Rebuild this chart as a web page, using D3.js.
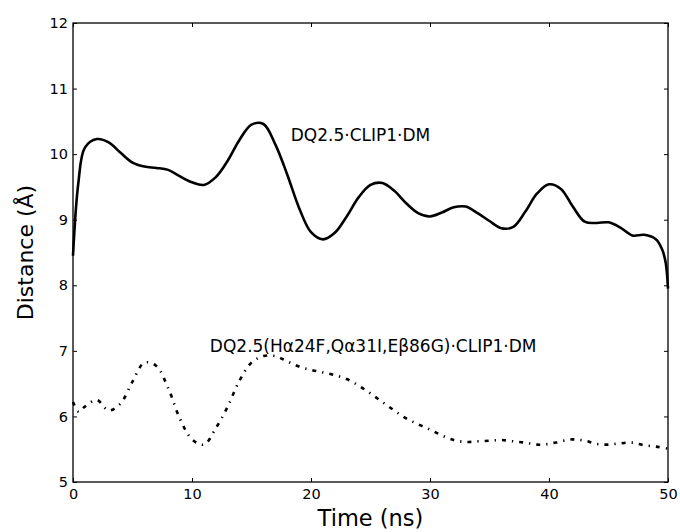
<!DOCTYPE html>
<html>
<head>
<meta charset="utf-8">
<script src="https://cdn.jsdelivr.net/npm/d3@7"></script>
<style>
  body { margin: 0; background: #fff; }
  svg { display: block; font-family: "DejaVu Sans", sans-serif; }
  .axis path { display: none; }
  .axis line { stroke: #000; stroke-width: 1; }
  .axis text { font-size: 14.5px; fill: #000; font-family: "DejaVu Sans", sans-serif; }
</style>
</head>
<body>
<div id="chart"></div>
<script>
var svgWidth = 680;
var svgHeight = 532;
var margin = {top: 23, right: 12, bottom: 50, left: 73};
var width = svgWidth - margin.left - margin.right;
var height = svgHeight - margin.top - margin.bottom;

// wild type complex (solid)
var wtTime = [0, 0.45, 1, 2, 3, 4, 5, 6, 7, 8, 9, 10, 11, 12, 13, 14, 15, 16, 17, 18, 19, 20,
              21, 22, 23, 24, 25, 26, 27, 28, 29, 30, 31, 32, 33, 34, 35, 36, 37, 38, 39, 40,
              41, 42, 43, 44, 45, 46, 47, 48, 49, 49.5, 49.8, 50];
var wtDist = [8.45, 9.56, 10.1, 10.23, 10.18, 10.02, 9.87, 9.81, 9.79, 9.76, 9.66, 9.57, 9.53, 9.65, 9.9, 10.22, 10.45, 10.46, 10.15, 9.69, 9.18, 8.81,
              8.70, 8.80, 9.05, 9.34, 9.53, 9.56, 9.44, 9.25, 9.10, 9.05, 9.11, 9.19, 9.2, 9.1, 8.98, 8.87, 8.89, 9.12, 9.4, 9.54,
              9.47, 9.2, 8.97, 8.95, 8.96, 8.88, 8.76, 8.77, 8.70, 8.55, 8.35, 7.95];

// mutant complex (dash-dot)
var mutTime = [0, 0.5, 1, 2, 3, 4, 5, 6, 7, 8, 9, 10, 11, 12, 13, 14, 15, 16, 17, 18, 19, 20,
               21, 22, 23, 24, 25, 26, 27, 28, 29, 30, 31, 32, 33, 34, 35, 36, 37, 38, 39, 40,
               41, 42, 43, 44, 45, 46, 47, 48, 49, 50];
var mutDist = [6.22, 6.07, 6.15, 6.25, 6.09, 6.2, 6.53, 6.82, 6.77, 6.43, 5.96, 5.65, 5.57, 5.82, 6.15, 6.55, 6.82, 6.92, 6.92, 6.84, 6.76, 6.71,
               6.67, 6.63, 6.57, 6.47, 6.35, 6.22, 6.09, 5.97, 5.88, 5.8, 5.71, 5.64, 5.61, 5.62, 5.63, 5.64, 5.62, 5.6, 5.57, 5.58,
               5.62, 5.65, 5.63, 5.58, 5.57, 5.59, 5.6, 5.56, 5.54, 5.51];

var xTicks = [0, 10, 20, 30, 40, 50];
var yTicks = [5, 6, 7, 8, 9, 10, 11, 12];

var svg = d3.select('#chart')
            .append('svg')
            .attr('width', svgWidth)
            .attr('height', svgHeight);

var chartGroup = svg.append('g')
                    .attr('transform', `translate(${margin.left}, ${margin.top})`);

var xScale = d3.scaleLinear().domain([0, 50]).range([0, width]);
var yScale = d3.scaleLinear().domain([5, 12]).range([height, 0]);

// axes, ticks pointing inward on all four sides
chartGroup.append('g')
          .attr('class', 'axis')
          .attr('transform', `translate(0, ${height})`)
          .call(d3.axisBottom(xScale).tickValues(xTicks).tickSize(-4).tickPadding(7).tickFormat(d3.format('d')));

chartGroup.append('g')
          .attr('class', 'axis')
          .call(d3.axisLeft(yScale).tickValues(yTicks).tickSize(-4).tickPadding(5).tickFormat(d3.format('d')));

chartGroup.append('g')
          .attr('class', 'axis')
          .call(d3.axisTop(xScale).tickValues(xTicks).tickSize(-4).tickFormat(''));

chartGroup.append('g')
          .attr('class', 'axis')
          .attr('transform', `translate(${width}, 0)`)
          .call(d3.axisRight(yScale).tickValues(yTicks).tickSize(-4).tickFormat(''));

var line = d3.line()
             .x(d => xScale(d[0]))
             .y(d => yScale(d[1]))
             .curve(d3.curveCatmullRom.alpha(0.5));

chartGroup.append('path')
          .datum(d3.zip(wtTime, wtDist))
          .attr('d', line)
          .attr('fill', 'none')
          .attr('stroke', '#000')
          .attr('stroke-width', 2.6);

chartGroup.append('path')
          .datum(d3.zip(mutTime, mutDist))
          .attr('d', line)
          .attr('fill', 'none')
          .attr('stroke', '#000')
          .attr('stroke-width', 2.6)
          .attr('stroke-dasharray', '4,6,1.3,6');

// frame
chartGroup.append('rect')
          .attr('width', width)
          .attr('height', height)
          .attr('fill', 'none')
          .attr('stroke', '#000')
          .attr('stroke-width', 1.3);

chartGroup.append('text')
          .attr('x', xScale(18.3))
          .attr('y', yScale(10.2))
          .attr('font-size', '17px')
          .text('DQ2.5·CLIP1·DM');

chartGroup.append('text')
          .attr('x', xScale(11.5))
          .attr('y', yScale(7.0) + 1)
          .attr('font-size', '17px')
          .text('DQ2.5(Hα24F,Qα31I,Eβ86G)·CLIP1·DM');

svg.append('text')
   .attr('x', margin.left + width / 2)
   .attr('y', 526)
   .attr('text-anchor', 'middle')
   .attr('font-size', '22.5px')
   .text('Time (ns)');

svg.append('text')
   .attr('transform', 'rotate(-90)')
   .attr('x', -(margin.top + height / 2))
   .attr('y', 33)
   .attr('text-anchor', 'middle')
   .attr('font-size', '22px')
   .text('Distance (Å)');
</script>
</body>
</html>
